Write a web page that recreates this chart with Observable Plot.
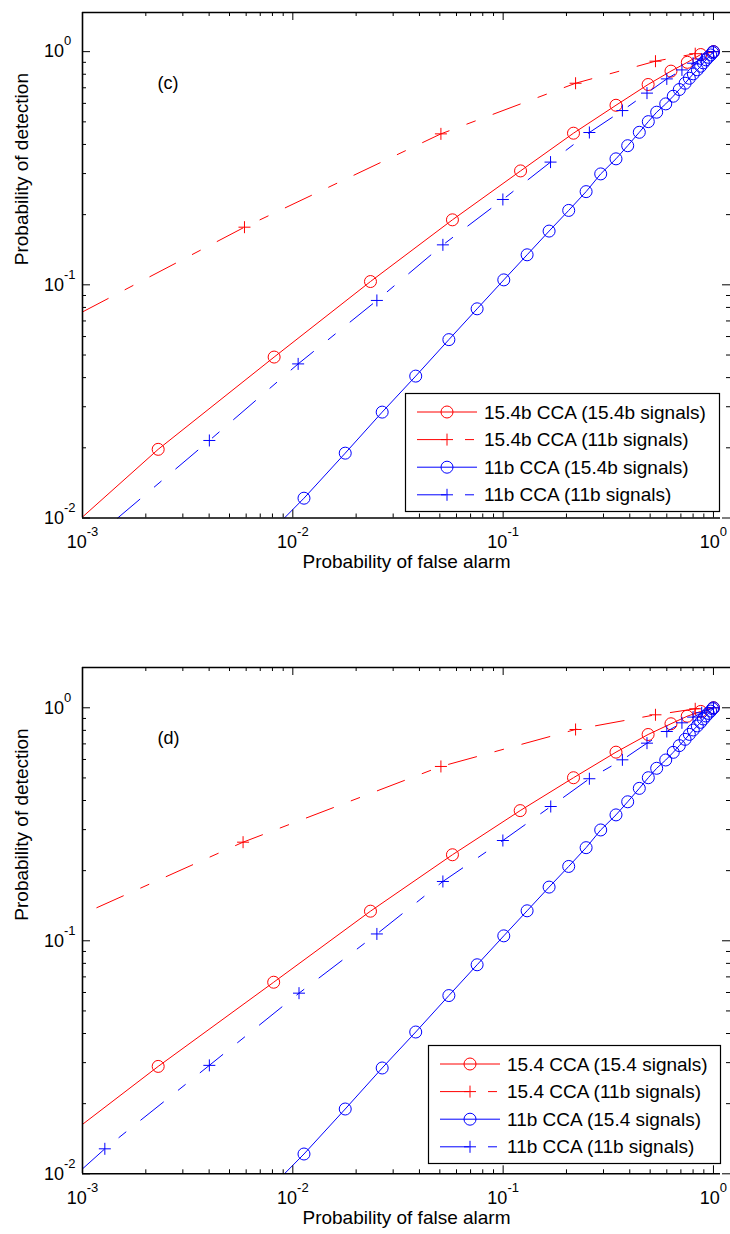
<!DOCTYPE html>
<html><head><meta charset="utf-8">
<script src="https://cdn.jsdelivr.net/npm/d3@7"></script>
<script src="https://cdn.jsdelivr.net/npm/@observablehq/plot@0.6"></script>
<style>
body{margin:0;background:#fff;}
#wrap{position:relative;width:730px;height:1234px;overflow:hidden;background:#fff;}
.panel{position:absolute;left:0;}
</style></head><body><div id="wrap"></div>
<script>
// ---------- axes ----------
const xMajorTicks = [0.001, 0.01, 0.1, 1];
const yMajorTicks = [0.01, 0.1, 1];
const xDomain = [0.001, 1.205];
const yDomainC = [0.01, 1.472];
const yDomainD = [0.01, 1.489];
const xLabel = "Probability of false alarm";
const yLabel = "Probability of detection";

// ---------- panel (c) ----------
const c_tag = "(c)";
const c_labels = ["15.4b CCA (15.4b signals)", "15.4b CCA (11b signals)", "11b CCA (15.4b signals)", "11b CCA (11b signals)"];
const c_redCircleStart = [0.001, 0.0101];
const c_redCircleX = [0.00229, 0.00815, 0.0234, 0.0574, 0.121, 0.216, 0.344, 0.489, 0.628, 0.751, 0.87, 1];
const c_redCircleY = [0.0197, 0.049, 0.1033, 0.190, 0.308, 0.447, 0.589, 0.723, 0.825, 0.90, 0.972, 1];
const c_redPlusStart = [0.001, 0.0765];
const c_redPlusX = [0.00589, 0.0506, 0.221, 0.530, 0.819, 1];
const c_redPlusY = [0.1767, 0.444, 0.732, 0.910, 0.98, 1];
const c_blueCircleStart = [0.00912, 0.01];
const c_blueCircleX = [0.0113, 0.01775, 0.0266, 0.0384, 0.0552, 0.0752, 0.1007, 0.130, 0.1654, 0.205, 0.248, 0.291, 0.344, 0.391, 0.444, 0.490, 0.537, 0.593, 0.644, 0.688, 0.733, 0.768, 0.802, 0.838, 0.869, 0.895, 0.921, 0.945, 0.97, 0.99, 1];
const c_blueCircleY = [0.01216, 0.01897, 0.02845, 0.0406, 0.0582, 0.0789, 0.105, 0.1345, 0.170, 0.2085, 0.251, 0.299, 0.347, 0.395, 0.451, 0.501, 0.550, 0.597, 0.644, 0.688, 0.732, 0.769, 0.803, 0.836, 0.866, 0.895, 0.922, 0.946, 0.968, 0.99, 1];
const c_bluePlusStart = [0.00147, 0.01];
const c_bluePlusX = [0.00401, 0.0106, 0.0251, 0.0517, 0.0997, 0.168, 0.257, 0.369, 0.483, 0.600, 0.708, 0.80, 0.879, 1];
const c_bluePlusY = [0.0215, 0.0458, 0.0857, 0.1484, 0.2323, 0.336, 0.450, 0.559, 0.664, 0.764, 0.835, 0.892, 0.93, 1];

// ---------- panel (d) ----------
const d_tag = "(d)";
const d_labels = ["15.4 CCA (15.4 signals)", "15.4 CCA (11b signals)", "11b CCA (15.4 signals)", "11b CCA (11b signals)"];
const d_redCircleStart = [0.001, 0.0163];
const d_redCircleX = [0.00229, 0.00811, 0.0234, 0.0574, 0.1205, 0.216, 0.344, 0.489, 0.628, 0.75, 0.87, 1];
const d_redCircleY = [0.0289, 0.0664, 0.134, 0.234, 0.362, 0.501, 0.645, 0.768, 0.854, 0.92, 0.965, 1];
const d_redPlusStart = [0.00117, 0.1387];
const d_redPlusX = [0.0058, 0.0506, 0.221, 0.530, 0.819, 1];
const d_redPlusY = [0.265, 0.560, 0.807, 0.933, 0.99, 1];
const d_blueCircleStart = [0.00912, 0.01];
const d_blueCircleX = [0.0113, 0.01775, 0.0266, 0.0384, 0.0552, 0.0752, 0.1007, 0.130, 0.1654, 0.205, 0.248, 0.291, 0.344, 0.391, 0.444, 0.490, 0.537, 0.593, 0.644, 0.688, 0.733, 0.768, 0.802, 0.838, 0.869, 0.895, 0.921, 0.945, 0.97, 0.99, 1];
const d_blueCircleY = [0.01216, 0.01897, 0.02845, 0.0406, 0.0582, 0.0789, 0.105, 0.1345, 0.170, 0.2085, 0.251, 0.299, 0.347, 0.395, 0.451, 0.501, 0.550, 0.597, 0.644, 0.688, 0.732, 0.769, 0.803, 0.836, 0.866, 0.895, 0.922, 0.946, 0.968, 0.99, 1];
const d_bluePlusStart = [0.001, 0.0105];
const d_bluePlusX = [0.001277, 0.00401, 0.0107, 0.0251, 0.0517, 0.0997, 0.1684, 0.257, 0.369, 0.483, 0.600, 0.708, 0.80, 0.879, 1];
const d_bluePlusY = [0.0128, 0.0292, 0.0596, 0.107, 0.1797, 0.2694, 0.377, 0.496, 0.598, 0.705, 0.791, 0.862, 0.912, 0.952, 1];

// ---------- style ----------
const RED = "#ff0000", BLUE = "#0000ff";
const DASH = "29,19,9,19";
const FONT = "'Liberation Sans', Arial, Helvetica, sans-serif";

const plusSymbol = {
  draw(ctx, size) {
    const r = Math.sqrt(size / Math.PI);
    ctx.moveTo(-r, 0); ctx.lineTo(r, 0);
    ctx.moveTo(0, -r); ctx.lineTo(0, r);
  }
};

function mkSeries(labels, rcS, rcX, rcY, rpS, rpX, rpY, bcS, bcX, bcY, bpS, bpX, bpY) {
  return [
    {label: labels[0], color: RED, dashed: false, marker: "circle", start: rcS, x: rcX, y: rcY},
    {label: labels[1], color: RED, dashed: true, marker: "plus", start: rpS, x: rpX, y: rpY},
    {label: labels[2], color: BLUE, dashed: false, marker: "circle", start: bcS, x: bcX, y: bcY},
    {label: labels[3], color: BLUE, dashed: true, marker: "plus", start: bpS, x: bpX, y: bpY}
  ];
}

const expFmt = (d) => "10^" + Math.round(Math.log10(d));

function makePanel(p) {
  const [x0, x1] = xDomain;
  const [y0, y1] = p.yDomain;
  const minorX = [], minorY = [];
  for (let e = -3; e <= 0; e++) for (let k = 2; k <= 9; k++) { const v = k * 10 ** e; if (v < x1) minorX.push(v); }
  for (let e = -2; e <= 0; e++) for (let k = 2; k <= 9; k++) { const v = k * 10 ** e; if (v < y1) minorY.push(v); }

  const ticks = (xs, ys, len) => [
    Plot.ruleX(xs, {x: d => d, y1: () => y0, y2: () => y0, insetTop: -len, stroke: "#000", strokeWidth: 1}),
    Plot.ruleX(xs, {x: d => d, y1: () => y1, y2: () => y1, insetBottom: -len, stroke: "#000", strokeWidth: 1}),
    Plot.ruleY(ys, {y: d => d, x1: () => x0, x2: () => x0, insetRight: -len, stroke: "#000", strokeWidth: 1}),
    Plot.ruleY(ys, {y: d => d, x1: () => x1, x2: () => x1, insetLeft: -len, stroke: "#000", strokeWidth: 1})
  ];

  const marks = [];
  for (const s of p.series) {
    const pts = s.x.map((x, i) => ({x, y: s.y[i]}));
    const lp = [{x: s.start[0], y: s.start[1]}, ...pts];
    marks.push(Plot.line(lp, {x: "x", y: "y", stroke: s.color, strokeWidth: 1, strokeDasharray: s.dashed ? DASH : undefined}));
    marks.push(Plot.dot(pts, {x: "x", y: "y", r: 6, symbol: s.marker === "plus" ? plusSymbol : "circle", stroke: s.color, fill: "none", strokeWidth: 1}));
  }

  const svg = Plot.plot({
    width: 730,
    height: p.height,
    marginLeft: 82,
    marginRight: 0,
    marginTop: 12,
    marginBottom: p.marginBottom,
    style: {fontFamily: FONT, fontSize: "18px", background: "#fff", overflow: "visible"},
    x: {type: "log", domain: xDomain},
    y: {type: "log", domain: p.yDomain},
    marks: [
      ...marks,
      ...ticks(xMajorTicks, yMajorTicks, 8),
      ...ticks(minorX, minorY, 4),
      Plot.ruleX([x0], {stroke: "#000", strokeWidth: 1.6}),
      Plot.ruleY([y1], {stroke: "#000", strokeWidth: 1.6}),
      Plot.ruleY([y0], {stroke: "#000", strokeWidth: 1.6, insetRight: 10}),
      Plot.axisX({ticks: xMajorTicks, anchor: "bottom", tickSize: 0, tickPadding: 17, tickFormat: expFmt, label: null, fontSize: 18}),
      Plot.axisY({ticks: yMajorTicks, anchor: "left", tickSize: 0, tickPadding: 38.5, textAnchor: "start", tickFormat: expFmt, label: null, fontSize: 18}),
      Plot.text([xLabel], {text: d => d, frameAnchor: "bottom", dy: 50, fontSize: 19}),
      Plot.text([yLabel], {text: d => d, frameAnchor: "left", rotate: -90, dx: -61, fontSize: 19}),
      Plot.text([p.tag], {text: d => d, frameAnchor: "top-left", dx: 75, dy: 64, fontSize: 18})
    ]
  });

  // superscript exponents on tick labels
  d3.select(svg).selectAll('g[aria-label="x-axis tick label"] text, g[aria-label="y-axis tick label"] text').each(function () {
    const parts = this.textContent.split("^");
    if (parts.length === 2) {
      const sel = d3.select(this);
      sel.text(parts[0]);
      sel.append("tspan").attr("dy", -12).attr("font-size", "13px").text(parts[1]);
    }
  });

  // legend
  const L = p.legend;
  const g = d3.select(svg).append("g").attr("font-family", FONT).attr("font-size", "19px").attr("text-anchor", "start");
  g.append("rect").attr("x", L.x + 0.5).attr("y", L.y + 0.5).attr("width", L.w).attr("height", L.h)
    .attr("fill", "#fff").attr("stroke", "#000").attr("stroke-width", 1.2);
  p.series.forEach((s, i) => {
    const cy = L.y + 19 + i * 27.6;
    g.append("line").attr("x1", L.x + 12).attr("x2", L.x + 72).attr("y1", cy).attr("y2", cy)
      .attr("stroke", s.color).attr("stroke-width", 1).attr("stroke-dasharray", s.dashed ? DASH : null);
    const mx = L.x + 42;
    if (s.marker === "circle") {
      g.append("circle").attr("cx", mx).attr("cy", cy).attr("r", 6).attr("fill", "none").attr("stroke", s.color);
    } else {
      g.append("path").attr("d", `M${mx - 6},${cy}H${mx + 6}M${mx},${cy - 6}V${cy + 6}`).attr("stroke", s.color).attr("fill", "none");
    }
    g.append("text").attr("x", L.x + 79).attr("y", cy).attr("dy", "0.35em").attr("text-anchor", "start").attr("fill", "#000").text(s.label);
  });
  return svg;
}

const seriesC = mkSeries(c_labels, c_redCircleStart, c_redCircleX, c_redCircleY, c_redPlusStart, c_redPlusX, c_redPlusY,
  c_blueCircleStart, c_blueCircleX, c_blueCircleY, c_bluePlusStart, c_bluePlusX, c_bluePlusY);
const seriesD = mkSeries(d_labels, d_redCircleStart, d_redCircleX, d_redCircleY, d_redPlusStart, d_redPlusX, d_redPlusY,
  d_blueCircleStart, d_blueCircleX, d_blueCircleY, d_bluePlusStart, d_bluePlusX, d_bluePlusY);

const wrap = document.getElementById("wrap");
const panelC = makePanel({tag: c_tag, yDomain: yDomainC, height: 600, marginBottom: 82.5,
  series: seriesC, legend: {x: 405, y: 393, w: 314, h: 118}});
const panelD = makePanel({tag: d_tag, yDomain: yDomainD, height: 579, marginBottom: 60.7,
  series: seriesD, legend: {x: 428, y: 390, w: 292, h: 118}});
const divC = document.createElement("div"); divC.className = "panel"; divC.style.top = "0px"; divC.appendChild(panelC);
const divD = document.createElement("div"); divD.className = "panel"; divD.style.top = "655px"; divD.appendChild(panelD);
wrap.appendChild(divC); wrap.appendChild(divD);
</script>
</body></html>
